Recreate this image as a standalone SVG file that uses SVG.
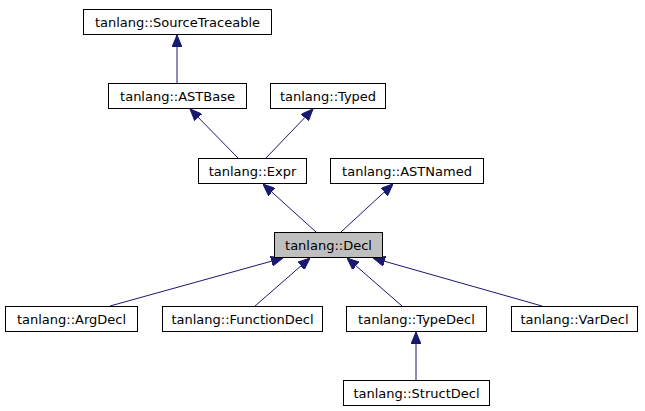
<svg xmlns="http://www.w3.org/2000/svg" width="645" height="411" viewBox="0 0 645 411">
<defs>
<style>
.box{fill:#ffffff;stroke:#000000;stroke-width:1}
.sel{fill:#bfbfbf;stroke:#000000;stroke-width:1}
.lbl{font-family:"DejaVu Sans",sans-serif;font-size:13px;fill:#000000;text-anchor:middle}
.edge{stroke:#191970;stroke-width:1;fill:none;marker-end:url(#ah)}
</style>
<marker id="ah" markerUnits="userSpaceOnUse" markerWidth="12" markerHeight="10" refX="12" refY="5" orient="auto">
<path d="M0,0 L12,5 L0,10 z" fill="#191970" stroke="#191970" stroke-width="1"/>
</marker>
</defs>
<rect width="645" height="411" fill="#ffffff"/>
<g id="connectors">
<line class="edge" x1="177" y1="83" x2="177" y2="35"/>
<line class="edge" x1="238" y1="158" x2="190" y2="109"/>
<line class="edge" x1="266" y1="158" x2="313" y2="109"/>
<line class="edge" x1="316" y1="232" x2="263" y2="184"/>
<line class="edge" x1="341" y1="232" x2="393" y2="184"/>
<line class="edge" x1="110" y1="306" x2="283" y2="258"/>
<line class="edge" x1="255" y1="306" x2="310" y2="258"/>
<line class="edge" x1="402" y1="306" x2="347" y2="258"/>
<line class="edge" x1="542" y1="306" x2="373" y2="258"/>
<line class="edge" x1="416" y1="380" x2="416" y2="332"/>
</g>
<g id="SourceTraceable"><rect class="box" x="83.5" y="9.5" width="188" height="25"/><text class="lbl" x="177.5" y="26.5">tanlang::SourceTraceable</text></g>
<g id="ASTBase"><rect class="box" x="108.5" y="83.5" width="138" height="25"/><text class="lbl" x="177.5" y="100.5">tanlang::ASTBase</text></g>
<g id="Typed"><rect class="box" x="270.5" y="83.5" width="115" height="25"/><text class="lbl" x="328" y="100.5">tanlang::Typed</text></g>
<g id="Expr"><rect class="box" x="198.5" y="158.5" width="108" height="25"/><text class="lbl" x="252.5" y="175.5">tanlang::Expr</text></g>
<g id="ASTNamed"><rect class="box" x="330.5" y="158.5" width="153" height="25"/><text class="lbl" x="407" y="175.5">tanlang::ASTNamed</text></g>
<g id="Decl"><rect class="sel" x="274.5" y="232.5" width="108" height="25"/><text class="lbl" x="328.5" y="249.5">tanlang::Decl</text></g>
<g id="ArgDecl"><rect class="box" x="5.5" y="306.5" width="132" height="25"/><text class="lbl" x="71.5" y="323.5">tanlang::ArgDecl</text></g>
<g id="FunctionDecl"><rect class="box" x="162.5" y="306.5" width="160" height="25"/><text class="lbl" x="242.5" y="323.5">tanlang::FunctionDecl</text></g>
<g id="TypeDecl"><rect class="box" x="346.5" y="306.5" width="140" height="25"/><text class="lbl" x="416.5" y="323.5">tanlang::TypeDecl</text></g>
<g id="VarDecl"><rect class="box" x="511.5" y="306.5" width="126" height="25"/><text class="lbl" x="574.5" y="323.5">tanlang::VarDecl</text></g>
<g id="StructDecl"><rect class="box" x="343.5" y="380.5" width="146" height="25"/><text class="lbl" x="416.5" y="397.5">tanlang::StructDecl</text></g>
</svg>
